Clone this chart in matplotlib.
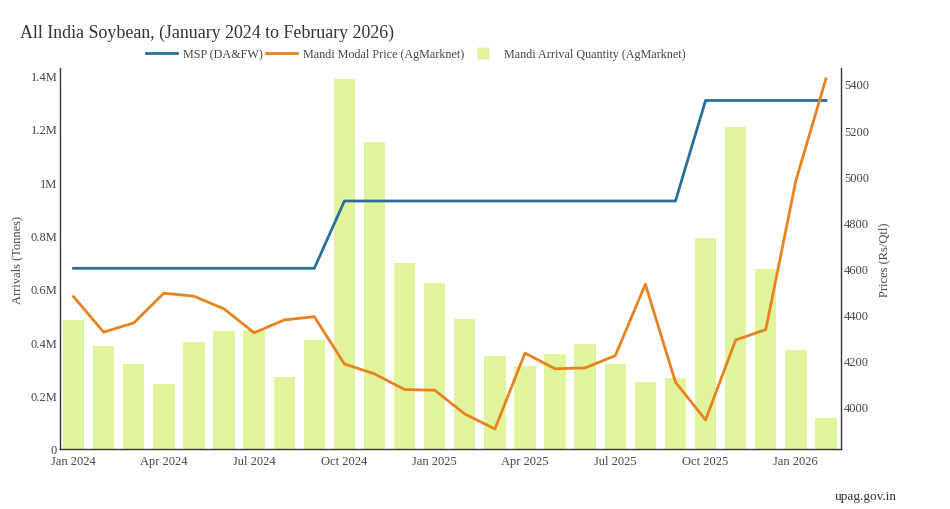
import numpy as np
import matplotlib
matplotlib.use("Agg")
import matplotlib.pyplot as plt
from matplotlib.ticker import FuncFormatter, MultipleLocator
from matplotlib.lines import Line2D

plt.rcParams['font.family'] = ['Liberation Serif', 'DejaVu Serif']

months = ["Jan 2024", "Feb 2024", "Mar 2024", "Apr 2024", "May 2024", "Jun 2024",
          "Jul 2024", "Aug 2024", "Sep 2024", "Oct 2024", "Nov 2024", "Dec 2024",
          "Jan 2025", "Feb 2025", "Mar 2025", "Apr 2025", "May 2025", "Jun 2025",
          "Jul 2025", "Aug 2025", "Sep 2025", "Oct 2025", "Nov 2025", "Dec 2025",
          "Jan 2026", "Feb 2026"]

# arrivals in tonnes
arrivals = [483000, 387000, 319000, 242000, 401000, 442000, 444000, 268000, 407000,
            1387000, 1149000, 698000, 622000, 486000, 347000, 312000, 355000, 392000,
            317000, 251000, 265000, 790000, 1206000, 673000, 371000, 116000]

# prices Rs/Qtl
modal_price = [4477, 4323, 4363, 4492, 4479, 4424, 4320, 4376, 4390, 4185, 4142, 4074,
               4071, 3968, 3903, 4232, 4164, 4168, 4221, 4531, 4106, 3942, 4289, 4334,
               4980, 5422]
msp = [4600] * 9 + [4892] * 12 + [5328] * 5

tick_months = ["Jan 2024", "Apr 2024", "Jul 2024", "Oct 2024", "Jan 2025",
               "Apr 2025", "Jul 2025", "Oct 2025", "Jan 2026"]

bar_color = '#e0f59b'
msp_color = '#2a6f9b'
price_color = '#e8821e'
text_color = '#444444'

x = np.arange(len(months))

fig = plt.figure(figsize=(9.5, 5.1), dpi=100)
ax = fig.add_axes([60 / 950, 60 / 510, 781 / 950, 381 / 510])
ax2 = ax.twinx()

ax.bar(x, arrivals, width=0.71, color=bar_color, zorder=1)
ax2.plot(x, msp, color=msp_color, lw=2, zorder=3)
ax2.plot(x, modal_price, color=price_color, lw=2, zorder=3)

ax.set_xlim(-0.45, 25.5)
ax.set_ylim(0, 1427000)
ax2.set_ylim(3816, 5469)

ax.yaxis.set_major_locator(MultipleLocator(200000))
ax.yaxis.set_major_formatter(FuncFormatter(
    lambda v, p: "0" if v == 0 else "{:g}M".format(round(v / 1e6, 1))))
ax2.yaxis.set_major_locator(MultipleLocator(200))

ax.set_xticks([months.index(m) for m in tick_months])
ax.set_xticklabels(tick_months)

for a in (ax, ax2):
    a.tick_params(length=0, labelsize=9, colors=text_color, pad=2)
    a.spines['top'].set_visible(False)
    for s in ('left', 'right', 'bottom'):
        a.spines[s].set_color('#333333')
        a.spines[s].set_linewidth(1)
ax.tick_params(axis='x', pad=4)
ax.spines['right'].set_visible(False)
ax2.spines['left'].set_visible(False)
ax2.spines['bottom'].set_visible(False)

ax.set_ylabel("Arrivals (Tonnes)", fontsize=9, color=text_color, labelpad=5)
ax2.set_ylabel("Prices (Rs/Qtl)", fontsize=9, color=text_color, labelpad=7)

fig.text(20 / 950, 1 - 33 / 510, "All India Soybean, (January 2024 to February 2026)",
         fontsize=12.9, color='#333333', va='center', ha='left')
fig.text(897 / 950, 1 - 497 / 510, "upag.gov.in", fontsize=9.5, color='#333333',
         va='center', ha='right')

handles = [Line2D([], [], color=msp_color, lw=2),
           Line2D([], [], color=price_color, lw=2),
           Line2D([], [], ls='none', marker='s', markersize=8,
                  markerfacecolor=bar_color, markeredgecolor='none')]
labels = ["MSP (DA&FW)", "Mandi Modal Price (AgMarknet)", "Mandi Arrival Quantity (AgMarknet)"]
fig.legend(handles, labels, loc='center', bbox_to_anchor=(416 / 950, 1 - 55 / 510),
           ncol=3, frameon=False, fontsize=8.7, labelcolor=text_color,
           handlelength=2.6, columnspacing=0.2, handletextpad=0.5)

fig.savefig("out.png", dpi=100)
